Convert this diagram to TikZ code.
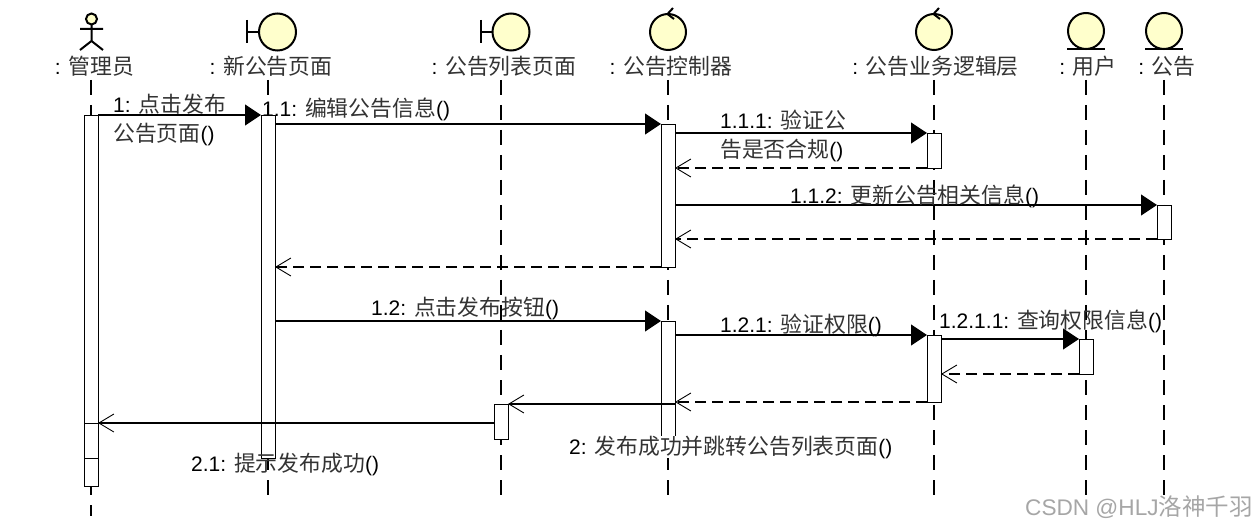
\documentclass[tikz,border=0pt]{standalone}
\usepackage{fontspec}
\setmainfont{Liberation Sans}
\newfontfamily\cjk[Scale=1.04]{Noto Sans CJK SC}
\newcommand{\zh}[1]{{\cjk\color{black!80}#1}}
\usetikzlibrary{arrows.meta}
\definecolor{headyellow}{HTML}{FFFFCC}
\tikzset{
    lifeline/.style={line width=1.3pt,dash pattern=on 15pt off 10pt},
    headshape/.style={line width=2pt,fill=headyellow},
    headline/.style={line width=2pt},
    bar/.style={draw,fill=white,line width=0.9pt,minimum width=14pt,inner sep=0pt,outer sep=0pt,anchor=north},
    msg/.style={line width=1.1pt,-{Triangle[length=16pt,width=21pt]}},
    reply/.style={line width=1.1pt,-{Straight Barb[length=15pt,width=18pt,line width=0.9pt]}},
    replydash/.style={reply,dash pattern=on 11pt off 6pt},
    headlabel/.style={font=\fontsize{21}{26}\selectfont,inner sep=0pt},
    msglabel/.style={font=\fontsize{21}{29}\selectfont,inner sep=0pt,anchor=west,align=left}
}
\begin{document}
\begin{tikzpicture}[x=1pt,y=-1pt]
    \useasboundingbox (0,0) rectangle (1256,529);
    % heads
    \draw[line width=2pt] (91.5,25) -- (91.5,41) (80,29) -- (103,29) (80,50) -- (91.5,41) -- (103,50);
    \filldraw[headshape] (91.5,19) circle (5.5);
    \draw[headline] (247,20) -- (247,43) (247,32) -- (259,32);
    \filldraw[headshape] (277.5,32) circle (18.5);
    \draw[headline] (481,20) -- (481,43) (481,32) -- (492,32);
    \filldraw[headshape] (511,32) circle (18.5);
    \filldraw[headshape] (668,32) circle (18);
    \draw[headline] (673,8) -- (667.5,14) -- (674,19);
    \filldraw[headshape] (934,32) circle (18);
    \draw[headline] (939,8) -- (933.5,14) -- (940,19);
    \filldraw[headshape] (1086,31) circle (18);
    \draw[headline] (1067,49) -- (1105,49);
    \filldraw[headshape] (1164,31) circle (18);
    \draw[headline] (1145,49) -- (1183,49);
    \node[headlabel] (mgrName) at (94.5,66.5) {: \zh{管理员}};
    \node[headlabel] (newName) at (271,66.5) {: \zh{新公告页面}};
    \node[headlabel] (lstName) at (504,66.5) {: \zh{公告列表页面}};
    \node[headlabel] (ctlName) at (671,66.5) {: \zh{公告控制器}};
    \node[headlabel] (logName) at (935.5,66.5) {: \zh{公告业务逻辑层}};
    \node[headlabel] (usrName) at (1088,66.5) {: \zh{用户}};
    \node[headlabel] (ntcName) at (1167,66.5) {: \zh{公告}};
    % lifelines
    \coordinate (mgrTop) at (91,80);
    \coordinate (newTop) at (268,80);
    \coordinate (lstTop) at (501,80);
    \coordinate (ctlTop) at (668,80);
    \coordinate (logTop) at (934,80);
    \coordinate (usrTop) at (1086,80);
    \coordinate (ntcTop) at (1164,80);
    \draw[lifeline] (mgrTop) -- ++(0,436);
    \draw[lifeline] (newTop) -- ++(0,419);
    \draw[lifeline] (lstTop) -- ++(0,419);
    \draw[lifeline] (ctlTop) -- ++(0,419);
    \draw[lifeline] (logTop) -- ++(0,419);
    \draw[lifeline] (usrTop) -- ++(0,419);
    \draw[lifeline] (ntcTop) -- ++(0,419);
    % bars
    \node[bar,minimum height=343pt] (mgrA) at (91,115) {};
    \node[bar,minimum height=63pt] (mgrB) at (91,423) {};
    \draw[line width=0.9pt] (mgrA.south west) -- (mgrA.south east);
    \node[bar,minimum height=343pt] (newA) at (268,115) {};
    \node[bar,minimum height=35pt] (lstA) at (501,404) {};
    \node[bar,minimum height=143pt] (ctlA) at (668,124) {};
    \node[bar,minimum height=118pt] (ctlB) at (668,321) {};
    \node[bar,minimum height=35pt] (logA) at (934,133) {};
    \node[bar,minimum height=67pt] (logB) at (934,335) {};
    \node[bar,minimum height=35pt] (usrA) at (1086,339) {};
    \node[bar,minimum height=34pt] (ntcA) at (1164,205) {};
    % messages
    \draw[msg] (mgrA.north east) -- (newA.north west);
    \draw[msg] (newA.east |- ctlA.north) -- (ctlA.north west);
    \draw[msg] (ctlA.east |- logA.north) -- (logA.north west);
    \draw[replydash] (logA.south west) -- (ctlA.east |- logA.south);
    \draw[msg] (ctlA.east |- ntcA.north) -- (ntcA.north west);
    \draw[replydash] (ntcA.south west) -- (ctlA.east |- ntcA.south);
    \draw[replydash] (ctlA.south west) -- (newA.east |- ctlA.south);
    \draw[msg] (newA.east |- ctlB.north) -- (ctlB.north west);
    \draw[msg] (ctlB.east |- logB.north) -- (logB.north west);
    \draw[msg] (logB.east |- usrA.north) -- (usrA.north west);
    \draw[replydash] (usrA.south west) -- (logB.east |- usrA.south);
    \draw[replydash] (logB.south west) -- (ctlB.east |- logB.south);
    \draw[reply] (ctlB.east |- lstA.north) -- (lstA.north east);
    \draw[reply] (lstA.west |- mgrB.north) -- (mgrB.north east);
    % labels
    \node[msglabel] (msgA) at (113,119.5) {1: \zh{点击发布}\\\zh{公告页面}()};
    \node[msglabel] (msgB) at (262,109) {1.1: \zh{编辑公告信息}()};
    \node[msglabel] (msgC) at (720,135.5) {1.1.1: \zh{验证公}\\\zh{告是否合规}()};
    \node[msglabel] (msgD) at (790,196) {1.1.2: \zh{更新公告相关信息}()};
    \node[msglabel] (msgE) at (371,308) {1.2: \zh{点击发布按钮}()};
    \node[msglabel] (msgF) at (720,325) {1.2.1: \zh{验证权限}()};
    \node[msglabel] (msgG) at (939,321) {1.2.1.1: \zh{查询权限信息}()};
    \node[msglabel,fill=white] (msgH) at (569,447) {2: \zh{发布成功并跳转公告列表页面}()};
    \node[msglabel] (msgI) at (191,464) {2.1: \zh{提示发布成功}()};
    \node[msglabel,font=\fontsize{22.6}{29}\selectfont,text=black!35] (mark) at (1025,507) {CSDN @HLJ{\cjk 洛神千羽}};
\end{tikzpicture}
\end{document}
